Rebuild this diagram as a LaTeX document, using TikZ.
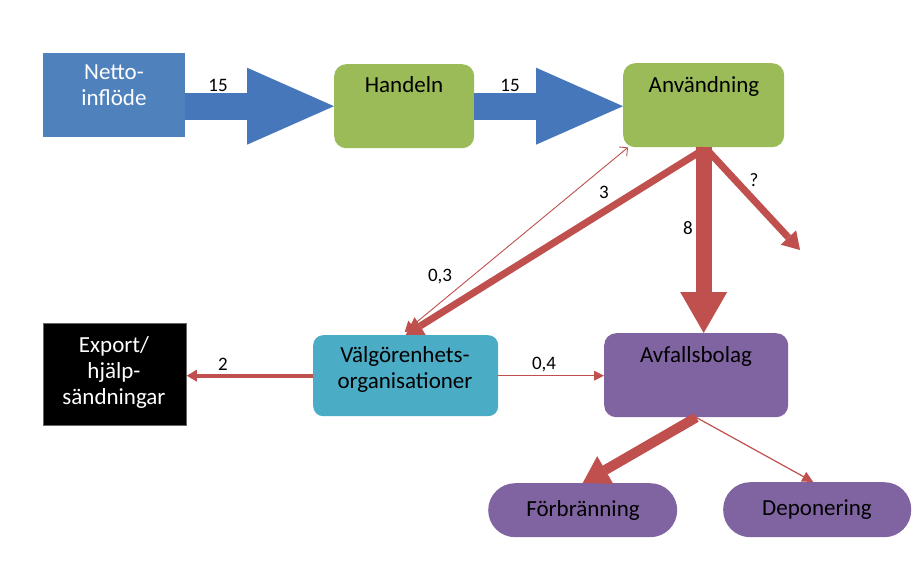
\documentclass[tikz,border=0pt]{standalone}
\usepackage{fontspec}
\setmainfont{Carlito}
\usetikzlibrary{arrows.meta,calc}
\definecolor{nblue}{HTML}{4F81BD}
\definecolor{ablue}{HTML}{4677BA}
\definecolor{ngreen}{HTML}{9BBB59}
\definecolor{nteal}{HTML}{4BACC6}
\definecolor{npurple}{HTML}{8064A2}
\definecolor{nred}{HTML}{C0504D}
\begin{document}
\begin{tikzpicture}[x=1pt,y=-1pt,
  boxbase/.style={inner sep=0pt, anchor=north west},
  boxtxt/.style={font=\fontsize{23}{26}\selectfont, anchor=base, inner sep=0pt, align=center},
  lbl/.style={font=\fontsize{19}{22}\selectfont, anchor=base, inner sep=0pt},
  bigarrow/.style={draw=ablue, line width=27pt, -{Triangle[length=87pt,width=77pt,line width=0pt]}},
  flow/.style={draw=nred, line width=#1}
]
\useasboundingbox[fill=white] (0,0) rectangle (921,567);

% boxes
\node[boxbase, fill=nblue, minimum width=142pt, minimum height=84pt] (netto) at (43,53) {};
\node[boxbase, fill=ngreen, rounded corners=12pt, minimum width=140pt, minimum height=84pt] (handeln) at (334,64) {};
\node[boxbase, fill=ngreen, rounded corners=12pt, minimum width=161pt, minimum height=84pt] (anv) at (623,63) {};
\node[boxbase, fill=black, draw=black!60, line width=0.8pt, minimum width=143pt, minimum height=102pt] (export) at (43,323) {};
\node[boxbase, fill=nteal, rounded corners=10pt, minimum width=185pt, minimum height=81pt] (valg) at (313,335) {};
\node[boxbase, fill=npurple, rounded corners=12pt, minimum width=184pt, minimum height=84pt] (avf) at (604,333) {};
\node[boxbase, fill=npurple, rounded corners=27pt, minimum width=189pt, minimum height=54pt] (forb) at (488,483) {};
\node[boxbase, fill=npurple, rounded corners=27pt, minimum width=188pt, minimum height=55pt] (dep) at (723,482) {};

% box texts (base = baseline of last line)
\node[boxtxt, text=white] (tnetto) at (114,106) {Netto-\\inflöde};
\node[boxtxt] (thandeln) at (404,93) {Handeln};
\node[boxtxt] (tanv) at (704,93) {Användning};
\node[boxtxt, text=white] (texport) at (114,404) {Export/\\hjälp-\\sändningar};
\node[boxtxt] (tvalg) at (405,388) {Välgörenhets-\\organisationer};
\node[boxtxt] (tavf) at (696,362) {Avfallsbolag};
\node[boxtxt] (tforb) at (583,516) {Förbränning};
\node[boxtxt] (tdep) at (817,515) {Deponering};

% blue flows
\draw[bigarrow] (netto.east |- handeln.west) -- (handeln.west);
\draw[bigarrow] (handeln.east) -- (anv.west |- handeln.east);

% red flows
\coordinate (qend) at (800,250);
\draw[flow=16pt, -{Triangle[length=41pt,width=47pt,line width=0pt]}] (anv.south) -- (anv.south |- avf.north);
\draw[flow=7pt, -{Triangle[length=17pt,width=21pt,line width=0pt]}] ($(anv.south)+(0,2)$) -- (valg.north);
\draw[flow=7pt, -{Triangle[length=17pt,width=21pt,line width=0pt]}] ($(anv.south)+(3,2)$) -- (qend);
\draw[flow=0.9pt, {Triangle[length=10pt,width=13pt,line width=0pt]}-{Straight Barb[length=6pt,width=12pt]}] ($(valg.north)+(-1,-3)$) -- ($(anv.south west)+(5,0)$);
\draw[flow=4pt, -{Triangle[length=10pt,width=12pt,line width=0pt]}] (valg.west) -- (export.east |- valg.west);
\draw[flow=1.5pt, -{Triangle[length=10pt,width=10pt,line width=0pt]}] (valg.east) -- (avf.west |- valg.east);
\draw[flow=10pt, -{Triangle[length=26pt,width=32pt,line width=0pt]}] (avf.south) -- (forb.north);
\draw[flow=1.2pt, -{Triangle[length=11pt,width=11pt,line width=0pt]}] (avf.south) -- ($(dep.north)+(-4,0)$);

% labels
\node[lbl] (l1) at (218,92) {15};
\node[lbl] (l2) at (510,92) {15};
\node[lbl] (l3) at (604,198) {3};
\node[lbl] (l8) at (688,234) {8};
\node[lbl] (lq) at (754,186) {?};
\node[lbl] (l03) at (440,281) {0,3};
\node[lbl] (l2b) at (223,370) {2};
\node[lbl] (l04) at (544,369) {0,4};
\end{tikzpicture}
\end{document}
